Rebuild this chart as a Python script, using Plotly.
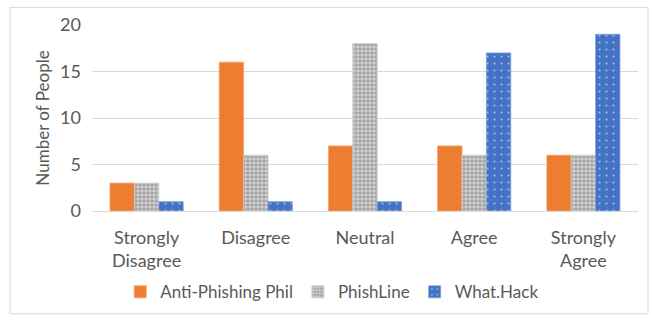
import plotly.graph_objects as go

categories = ["Strongly<br>Disagree", "Disagree", "Neutral", "Agree", "Strongly<br>Agree"]
anti_phishing_phil = [3, 16, 7, 7, 6]
phishline = [3, 6, 18, 6, 6]
what_hack = [1, 1, 1, 17, 19]

W, H = 652, 322
L, R, T, B = 92, 14, 25, 107
pw, ph = W - L - R, H - T - B

font = "Lato"
txt = "#595959"

fig = go.Figure()
fig.add_trace(go.Bar(
    name="Anti-Phishing Phil", x=categories, y=anti_phishing_phil,
    marker=dict(color="#ED7D31", line=dict(color="#F4A36B", width=0.8)),
))
fig.add_trace(go.Bar(
    name="PhishLine", x=categories, y=phishline,
    marker=dict(color="#A5A5A5", line=dict(color="#C8C8C8", width=0.8),
                pattern=dict(shape=".", bgcolor="#A5A5A5", fgcolor="#FFFFFF",
                             size=4, solidity=0.5, fillmode="overlay")),
))
fig.add_trace(go.Bar(
    name="What.Hack", x=categories, y=what_hack,
    marker=dict(color="#4472C4", line=dict(color="#7F9FD9", width=0.8),
                pattern=dict(shape=".", bgcolor="#4472C4", fgcolor="#FFFFFF",
                             size=7, solidity=0.08, fillmode="overlay")),
))

def px(x):
    return (x - L) / pw

def py(y):
    return 1 - (y - T) / ph

fig.add_shape(type="rect", xref="paper", yref="paper",
              x0=px(10), x1=px(648), y0=py(320), y1=py(7),
              line=dict(color="#D9D9D9", width=1), fillcolor="rgba(0,0,0,0)", layer="below")

fig.update_layout(
    width=W, height=H,
    margin=dict(l=L, r=R, t=T, b=B),
    paper_bgcolor="white", plot_bgcolor="white",
    barmode="group", bargap=0.33, bargroupgap=0,
    font=dict(family=font, size=17, color=txt),
    showlegend=True,
    legend=dict(orientation="h", x=0.44, xanchor="center", y=py(298), yanchor="middle",
                font=dict(family=font, size=17, color=txt), itemwidth=30,
                traceorder="normal"),
    xaxis=dict(showgrid=False, showline=True, linecolor="#D9D9D9", ticks="",
               ticklabelstandoff=10,
               tickfont=dict(family=font, size=18, color=txt)),
    yaxis=dict(range=[0, 20], dtick=5, showgrid=True, gridcolor="#D9D9D9",
               zeroline=False, showline=False, ticks="",
               ticklabelstandoff=10,
               tickfont=dict(family=font, size=18, color=txt),
               title=dict(text="Number of People", font=dict(family=font, size=17, color=txt),
                          standoff=6)),
)

fig.write_html("out.html")
